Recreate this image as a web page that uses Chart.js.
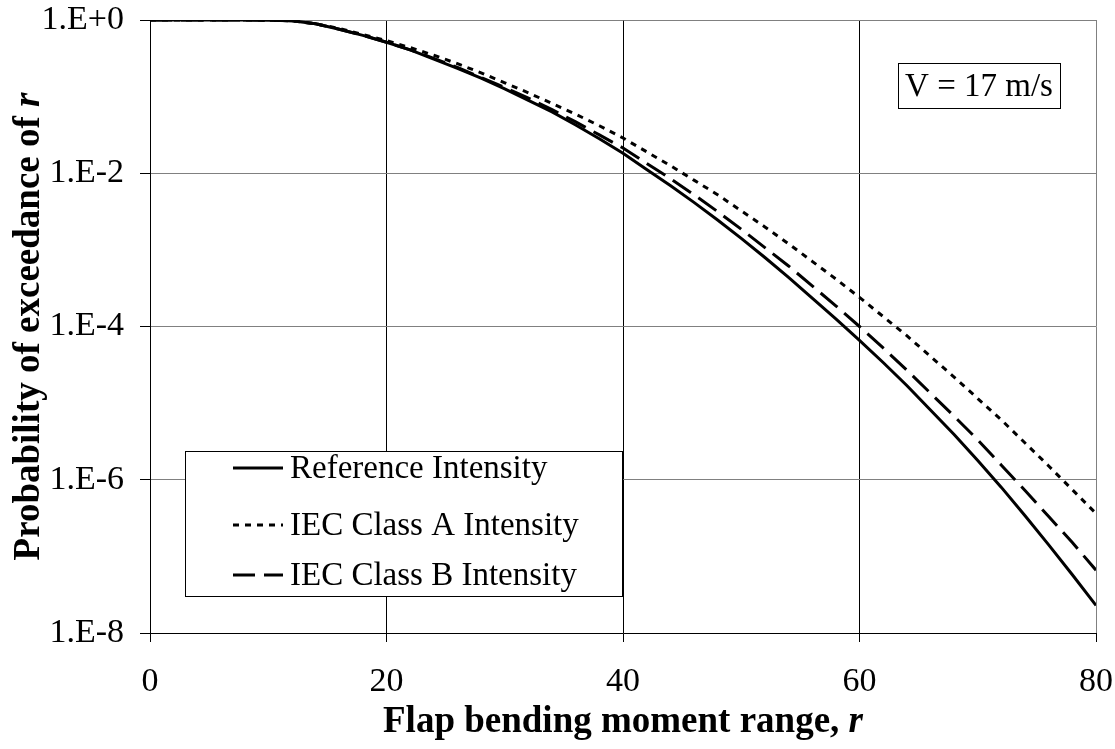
<!DOCTYPE html>
<html>
<head>
<meta charset="utf-8">
<script src="https://cdn.jsdelivr.net/npm/chart.js@4"></script>
<style>
  html, body { margin: 0; padding: 0; background: #fff; }
  #wrap { width: 1115px; height: 749px; }
</style>
</head>
<body>
<div id="wrap"><canvas id="my-chart" width="1115" height="749"></canvas></div>
<script>
// data (r values and log10 of exceedance probability)
let rValues = [0, 2, 4, 6, 8, 10, 12, 14, 16, 18, 20, 22, 24, 26, 28, 30, 32, 34, 36, 38, 40,
  42, 44, 46, 48, 50, 52, 54, 56, 58, 60, 62, 64, 66, 68, 70, 72, 74, 76, 78, 80];

let referenceExp = [0, 0, 0, 0, 0, -0.002, -0.01, -0.05, -0.12, -0.2, -0.29, -0.39, -0.51, -0.63, -0.76,
  -0.90, -1.05, -1.20, -1.37, -1.55, -1.74, -1.95, -2.16, -2.38, -2.61, -2.85, -3.10, -3.36, -3.63,
  -3.90, -4.18, -4.47, -4.77, -5.09, -5.41, -5.75, -6.10, -6.47, -6.85, -7.24, -7.64];

let classAExp = [0, 0, 0, 0, 0, -0.002, -0.01, -0.05, -0.11, -0.19, -0.27, -0.36, -0.46, -0.57, -0.69,
  -0.82, -0.95, -1.09, -1.23, -1.38, -1.54, -1.72, -1.90, -2.09, -2.28, -2.49, -2.70, -2.92, -3.15,
  -3.38, -3.62, -3.87, -4.12, -4.39, -4.66, -4.94, -5.22, -5.52, -5.82, -6.13, -6.44];

let classBExp = [0, 0, 0, 0, 0, -0.002, -0.01, -0.05, -0.12, -0.2, -0.29, -0.39, -0.50, -0.62, -0.75,
  -0.88, -1.02, -1.17, -1.33, -1.50, -1.67, -1.87, -2.07, -2.28, -2.50, -2.73, -2.97, -3.21, -3.47,
  -3.73, -4.00, -4.28, -4.57, -4.87, -5.17, -5.48, -5.81, -6.14, -6.48, -6.82, -7.18];

let seriesNames = ['Reference Intensity', 'IEC Class A Intensity', 'IEC Class B Intensity'];
let xTicks = [0, 20, 40, 60, 80];
let yTickValues = [1e-8, 1e-6, 1e-4, 1e-2, 1];
let yTickLabels = ['1.E-8', '1.E-6', '1.E-4', '1.E-2', '1.E+0'];

let fontFamily = '"Liberation Serif", "Times New Roman", serif';
let ctx = document.getElementById('my-chart');

function toPoints(exps) {
  let pts = [];
  for (let i = 0; i < rValues.length; i++) {
    pts.push({ x: rValues[i], y: Math.pow(10, exps[i]) });
  }
  return pts;
}

let dashes = [[], [6, 6], [22, 9]];

// titles, legend box and the speed label
let decorPlugin = {
  id: 'decor',
  afterDraw(chart) {
    let c = chart.ctx;
    let area = chart.chartArea;
    c.save();
    c.fillStyle = '#000';
    c.textBaseline = 'middle';

    // x axis title with italic r
    let xa = 'Flap bending moment range, ';
    c.font = 'bold 37px ' + fontFamily;
    let w1 = c.measureText(xa).width;
    c.font = 'bold italic 37px ' + fontFamily;
    let w2 = c.measureText('r').width;
    let cx = (area.left + area.right) / 2;
    let sx = cx - (w1 + w2) / 2;
    c.textAlign = 'left';
    c.font = 'bold 37px ' + fontFamily;
    c.fillText(xa, sx, 722);
    c.font = 'bold italic 37px ' + fontFamily;
    c.fillText('r', sx + w1, 722);

    // y axis title
    c.save();
    c.translate(29, (area.top + area.bottom) / 2);
    c.rotate(-Math.PI / 2);
    let ya = 'Probability of exceedance of ';
    c.font = 'bold 37px ' + fontFamily;
    let w3 = c.measureText(ya).width;
    c.font = 'bold italic 37px ' + fontFamily;
    let w4 = c.measureText('r').width;
    let sy = -(w3 + w4) / 2;
    c.font = 'bold 37px ' + fontFamily;
    c.fillText(ya, sy, 0);
    c.font = 'bold italic 37px ' + fontFamily;
    c.fillText('r', sy + w3, 0);
    c.restore();

    // legend
    c.fillStyle = '#fff';
    c.fillRect(185, 451, 437, 145);
    c.strokeStyle = '#000';
    c.lineWidth = 1;
    c.strokeRect(185.5, 451.5, 437, 145);
    let rows = [468, 525, 575];
    c.font = '33px ' + fontFamily;
    for (let i = 0; i < seriesNames.length; i++) {
      c.strokeStyle = '#000';
      c.lineWidth = 3;
      c.setLineDash(dashes[i]);
      c.beginPath();
      c.moveTo(233, rows[i]);
      c.lineTo(283, rows[i]);
      c.stroke();
      c.setLineDash([]);
      c.fillStyle = '#000';
      c.fillText(seriesNames[i], 290, rows[i] + 1);
    }

    // V = 17 m/s box
    c.fillStyle = '#fff';
    c.fillRect(898, 63, 162, 45);
    c.strokeStyle = '#000';
    c.lineWidth = 1;
    c.strokeRect(898.5, 63.5, 162, 45);
    c.fillStyle = '#000';
    c.textAlign = 'center';
    c.font = '33px ' + fontFamily;
    c.fillText('V = 17 m/s', 979, 87);
    c.restore();
  }
};

let chartObject = {
  type: 'line',
  data: {
    datasets: [
      {
        label: seriesNames[0],
        data: toPoints(referenceExp),
        borderColor: '#000',
        borderWidth: 3,
        pointRadius: 0,
        fill: false
      },
      {
        label: seriesNames[1],
        data: toPoints(classAExp),
        borderColor: '#000',
        borderWidth: 3,
        borderDash: dashes[1],
        pointRadius: 0,
        fill: false
      },
      {
        label: seriesNames[2],
        data: toPoints(classBExp),
        borderColor: '#000',
        borderWidth: 3,
        borderDash: dashes[2],
        pointRadius: 0,
        fill: false
      }
    ]
  },
  options: {
    responsive: false,
    animation: false,
    layout: { padding: { left: 0, right: 19, top: 20, bottom: 0 } },
    plugins: {
      legend: { display: false },
      tooltip: { enabled: false }
    },
    scales: {
      x: {
        type: 'linear',
        min: 0,
        max: 80,
        afterBuildTicks: function (scale) {
          scale.ticks = xTicks.map(v => ({ value: v }));
        },
        afterFit: function (scale) {
          scale.height = 116;
          scale.paddingLeft = 0;
          scale.paddingRight = 0;
        },
        grid: {
          color: c => (c.tick && c.tick.value === 80 ? '#808080' : '#000'),
          lineWidth: 1,
          tickLength: 9,
          tickColor: '#000'
        },
        border: { color: '#000', width: 1 },
        ticks: {
          color: '#000',
          padding: 20,
          maxRotation: 0,
          autoSkip: false,
          font: { family: fontFamily, size: 34 }
        }
      },
      y: {
        type: 'logarithmic',
        min: 1e-8,
        max: 1,
        afterBuildTicks: function (scale) {
          scale.ticks = yTickValues.map(v => ({ value: v }));
        },
        afterFit: function (scale) {
          scale.width = 150;
          scale.paddingTop = 0;
          scale.paddingBottom = 0;
        },
        grid: {
          color: '#808080',
          lineWidth: 1,
          tickLength: 10,
          tickColor: '#000'
        },
        border: { color: '#000', width: 1 },
        ticks: {
          color: '#000',
          padding: 16,
          autoSkip: false,
          font: { family: fontFamily, size: 34 },
          callback: function (value) {
            let idx = yTickValues.findIndex(v => Math.abs(Math.log10(v) - Math.log10(value)) < 1e-6);
            return idx >= 0 ? yTickLabels[idx] : '';
          }
        }
      }
    }
  },
  plugins: [decorPlugin]
};

const myChart = new Chart(ctx, chartObject); //eslint-disable-line
</script>
</body>
</html>
